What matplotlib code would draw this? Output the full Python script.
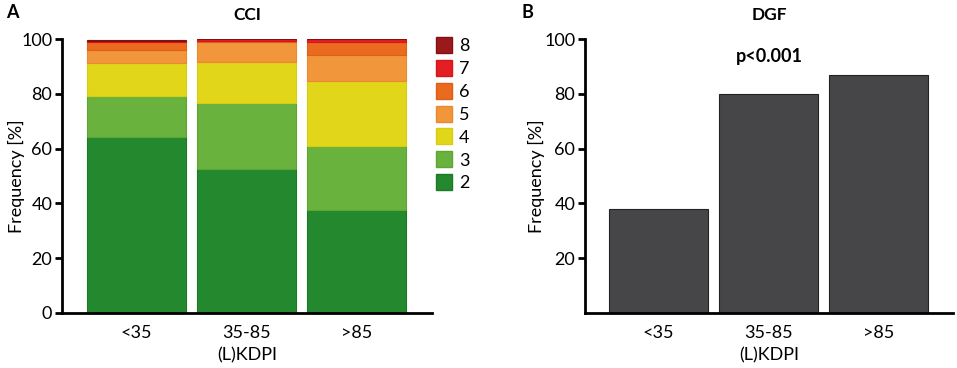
import numpy as np
import matplotlib
matplotlib.use("Agg")
import matplotlib.pyplot as plt
from matplotlib.lines import Line2D

plt.rcParams['font.family'] = ['Lato', 'DejaVu Sans']

# donnees
groups = ["<35", "35-85", ">85"]
cci_levels = ["2", "3", "4", "5", "6", "7", "8"]
cci_2 = [64.1, 52.6, 37.5]
cci_3 = [15.2, 23.9, 23.6]
cci_4 = [12.1, 15.1, 23.6]
cci_5 = [4.5, 7.3, 9.3]
cci_6 = [3.0, 0.3, 4.8]
cci_7 = [0.3, 0.8, 1.2]
cci_8 = [0.6, 0.0, 0.0]
dgf = [38, 80, 87]

cci_colors = ["#24882e", "#6ab23e", "#e1d61a", "#f2963b", "#ea6a20", "#e31e24", "#9a1a1c"]
cci_edges = ["#1b7a22", "#5fa534", "#d8cd10", "#ea8a30", "#dd5f18", "#d81518", "#851013"]

fs = 13

fig = plt.figure(figsize=(9.57, 3.68), dpi=100)
axA = fig.add_axes([0.0648, 0.1495, 0.3866, 0.7445])
axB = fig.add_axes([0.6113, 0.1495, 0.3845, 0.7445])

x = np.arange(len(groups))
series = [cci_2, cci_3, cci_4, cci_5, cci_6, cci_7, cci_8]
bottom = np.zeros(len(groups))
for vals, c, ec in zip(series, cci_colors, cci_edges):
    axA.bar(x, vals, width=0.9, bottom=bottom, color=c, edgecolor=ec, linewidth=0.8)
    bottom += np.array(vals)

axB.bar(x, dgf, width=0.9, color="#464648", edgecolor="#222222", linewidth=0.8)

for ax in (axA, axB):
    ax.set_ylim(0, 100)
    ax.spines['top'].set_visible(False)
    ax.spines['right'].set_visible(False)
    ax.spines['left'].set_linewidth(2)
    ax.spines['bottom'].set_linewidth(2)
    ax.set_xticks(x)
    ax.set_xticklabels(groups)
    ax.tick_params(axis='x', length=0, pad=9, labelsize=fs)
    ax.tick_params(axis='y', length=5, width=2, labelsize=fs, pad=2)
    ax.set_xlabel("(L)KDPI", fontsize=fs, labelpad=4)
    ax.set_ylabel("Frequency [%]", fontsize=fs)

axA.yaxis.set_label_coords(-0.100, 0.5)
axB.yaxis.set_label_coords(-0.109, 0.5)

axA.set_xlim(-0.677, 2.686)
axB.set_xlim(-0.668, 2.677)
axA.set_yticks([0, 20, 40, 60, 80, 100])
axB.set_yticks([20, 40, 60, 80, 100])

axA.set_title("CCI", fontsize=12.5, fontweight='bold', pad=14)
axB.set_title("DGF", fontsize=12.5, fontweight='bold', pad=14)
axB.text(0.5, 0.935, "p<0.001", transform=axB.transAxes, ha='center', va='center',
         fontsize=13, fontweight='bold')

fig.text(0.006, 0.965, "A", fontsize=13, fontweight='bold', va='center')
fig.text(0.545, 0.965, "B", fontsize=13, fontweight='bold', va='center')

handles = [Line2D([], [], marker='s', linestyle='', markersize=12,
                  markerfacecolor=c, markeredgecolor=ec)
           for c, ec in zip(cci_colors[::-1], cci_edges[::-1])]
fig.legend(handles, cci_levels[::-1], loc='upper left', bbox_to_anchor=(0.436, 0.94),
           frameon=False, fontsize=fs, handletextpad=0.2, labelspacing=0.38,
           handlelength=1.2)

fig.savefig("out.png", dpi=100)
